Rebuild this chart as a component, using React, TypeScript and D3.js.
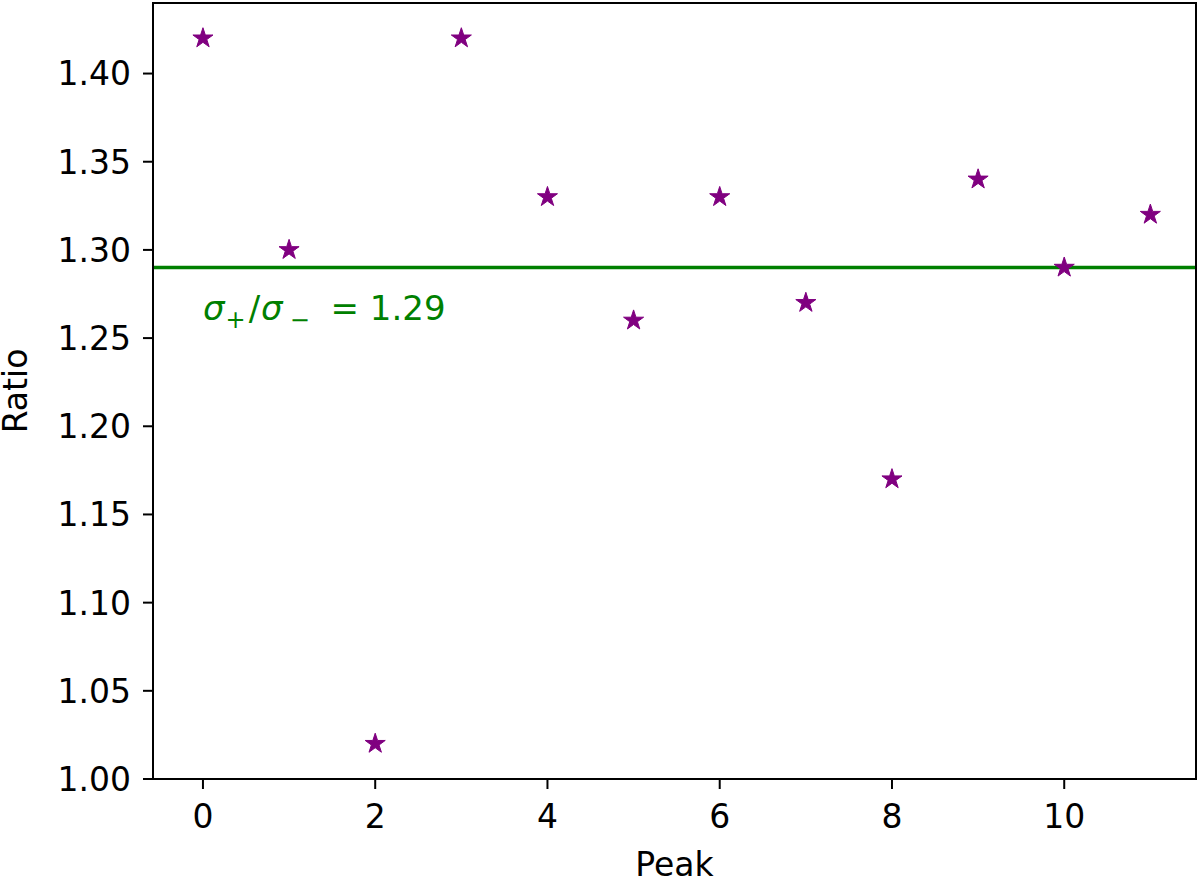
import React from 'react';
import * as d3 from 'd3';

// Values
const peaks = [0, 1, 2, 3, 4, 5, 6, 7, 8, 9, 10, 11];
const ratios = [1.42, 1.3, 1.02, 1.42, 1.33, 1.26, 1.33, 1.27, 1.17, 1.34, 1.29, 1.32];
const meanRatio = 1.29;
const xTicks = [0, 2, 4, 6, 8, 10];
const yTicks = [1.0, 1.05, 1.1, 1.15, 1.2, 1.25, 1.3, 1.35, 1.4];

const W = 1200;
const H = 877;
const margin = { left: 153, right: 4, top: 3, bottom: 98 };
const FONT = 'DejaVu Sans, sans-serif';

const App: React.FC = () => {
  const x = d3.scaleLinear().domain([-0.58, 11.53]).range([margin.left, W - margin.right]);
  const y = d3.scaleLinear().domain([1.0, 1.44]).range([H - margin.bottom, margin.top]);
  const star = d3.symbol().type(d3.symbolStar).size(125)() as string;

  const [x0, x1] = x.range();
  const [y0, y1] = y.range();

  return (
    <svg width={W} height={H} style={{ position: 'absolute', left: 0, top: 0, background: '#fff' }} fontFamily={FONT}>
      {/* mean line */}
      <line x1={x0} x2={x1} y1={y(meanRatio)} y2={y(meanRatio)} stroke="#008000" strokeWidth={3.5} />

      {/* annotation: sigma_+ / sigma_- = 1.29 */}
      <text x={x(0)} y={y(1.26)} fill="#008000" fontSize={34}>
        <tspan fontStyle="italic">σ</tspan>
        <tspan fontSize={24} dy={8} dx={1}>+</tspan>
        <tspan fontSize={34} dy={-8} dx={3}>/</tspan>
        <tspan fontStyle="italic" dx={1}>σ</tspan>
        <tspan fontSize={24} dy={8} dx={7}>−</tspan>
        <tspan fontSize={34} dy={-8} dx={10}>{'\u00a0= 1.29'}</tspan>
      </text>

      {/* markers */}
      {peaks.map((p, i) => (
        <path key={p} d={star} transform={`translate(${x(p)},${y(ratios[i])})`} fill="#800080" stroke="#800080" strokeWidth={1} strokeLinejoin="round" />
      ))}

      {/* frame */}
      <rect x={x0} y={y1} width={x1 - x0} height={y0 - y1} fill="none" stroke="#000" strokeWidth={2} />

      {/* x axis */}
      {xTicks.map(t => (
        <g key={t} transform={`translate(${x(t)},${y0})`}>
          <line y2={10} stroke="#000" strokeWidth={2} />
          <text y={49} textAnchor="middle" fontSize={33} fill="#000">{t}</text>
        </g>
      ))}
      <text x={(x0 + x1) / 2} y={876} textAnchor="middle" fontSize={33} fill="#000">Peak</text>

      {/* y axis */}
      {yTicks.map(t => (
        <g key={t} transform={`translate(${x0},${y(t)})`}>
          <line x2={-10} stroke="#000" strokeWidth={2} />
          <text x={-22} dy="0.36em" textAnchor="end" fontSize={33} fill="#000">{t.toFixed(2)}</text>
        </g>
      ))}
      <text transform={`translate(27,${(y0 + y1) / 2}) rotate(-90)`} textAnchor="middle" fontSize={33} fill="#000">Ratio</text>
    </svg>
  );
};

export default App;
